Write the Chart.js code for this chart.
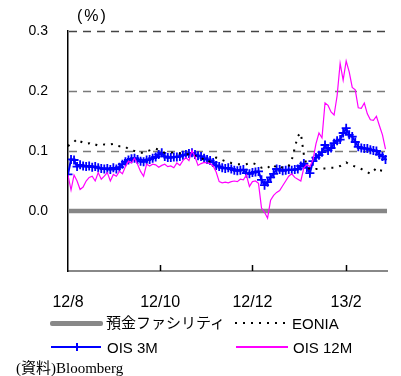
<!DOCTYPE html>
<html>
<head>
<meta charset="utf-8">
<script src="https://cdn.jsdelivr.net/npm/chart.js@4/dist/chart.umd.min.js"></script>
<style>
  html, body { margin: 0; padding: 0; background: #fff; }
  #wrap { position: relative; width: 401px; height: 376px; overflow: hidden; }
  #c { position: absolute; left: 0; top: 0; }
  .txt { position: absolute; white-space: nowrap; color: #000; line-height: 1; }
  .sans { font-family: "Liberation Sans", Arial, "Noto Sans CJK JP", sans-serif; }
  .jp { font-family: "Noto Sans CJK JP", "Liberation Sans", sans-serif; }
  .serif { font-family: "Liberation Serif", "Noto Sans CJK JP", serif; }
  .sw { position: absolute; }
</style>
</head>
<body>
<div id="wrap">
  <canvas id="c" width="401" height="376"></canvas>
  <div class="txt sans" style="left:77px; top:8px; font-size:16px; letter-spacing:2px;">(%)</div>

  <!-- legend -->
  <div class="sw" style="left:50px; top:321px; width:53px; height:5px; background:#888; border-radius:2px;"></div>
  <div class="txt jp" style="left:106px; top:314px; font-size:15px;">預金ファシリティ</div>
  <div class="sw" style="left:235px; top:322px; width:56px; height:2px; background:repeating-linear-gradient(90deg,#000 0 2px,transparent 2px 8px);"></div>
  <div class="txt sans" style="left:292px; top:316px; font-size:15px;">EONIA</div>

  <div class="sw" style="left:51px; top:346px; width:50px; height:1.5px; background:#0000ff;"></div>
  <div class="sw" style="left:76px; top:343px; width:1.5px; height:8px; background:#0000ff;"></div>
  <div class="txt sans" style="left:107px; top:340px; font-size:15px;">OIS 3M</div>
  <div class="sw" style="left:236px; top:346px; width:52px; height:1.5px; background:#ff00ff;"></div>
  <div class="txt sans" style="left:293px; top:340px; font-size:15px;">OIS 12M</div>

  <div class="txt serif" style="left:16px; top:361px; font-size:15px;">(資料)Bloomberg</div>
</div>
<script>
// Observation days, counted from 1 Aug 2012, every second day
const days = Array.from({ length: 106 }, (_, i) => i * 2);

// Month tick positions (days from 1 Aug 2012) and their labels
const monthTicks = [0, 61, 122, 184];
const monthLabels = ['12/8', '12/10', '12/12', '13/2'];

// Dashed reference levels (%)
const gridLevels = [0.1, 0.2, 0.3];

// Deposit facility rate (%)
const depositDays = [0, 211];
const depositRate = [0.0, 0.0];

// EONIA (%)
const eonia = [
  0.108, 0.113, 0.115, 0.120, 0.116, 0.114, 0.112, 0.113, 0.110, 0.111,
  0.109, 0.110, 0.111, 0.110, 0.111, 0.112, 0.109, 0.108, 0.108, 0.107,
  0.103, 0.101, 0.100, 0.098, 0.097, 0.097, 0.100, 0.101, 0.103, 0.104,
  0.102, 0.099, 0.097, 0.097, 0.097, 0.098, 0.097, 0.096, 0.095, 0.094,
  0.095, 0.094, 0.092, 0.091, 0.089, 0.085, 0.081, 0.083, 0.087, 0.089,
  0.088, 0.085, 0.083, 0.082, 0.080, 0.079, 0.078, 0.078, 0.077, 0.078,
  0.080, 0.080, 0.078, 0.075, 0.072, 0.073, 0.075, 0.070, 0.072, 0.077,
  0.074, 0.072, 0.073, 0.075, 0.085, 0.105, 0.125, 0.130, 0.094, 0.075,
  0.069, 0.069, 0.070, 0.070, 0.071, 0.071, 0.071, 0.072, 0.072, 0.073,
  0.075, 0.078, 0.081, 0.078, 0.076, 0.074, 0.072, 0.070, 0.067, 0.065,
  0.062, 0.066, 0.072, 0.068, 0.067, 0.068
];

// OIS 3M (%)
const ois3m = [
  0.061, 0.086, 0.085, 0.074, 0.077, 0.075, 0.074, 0.075, 0.073, 0.074,
  0.072, 0.071, 0.070, 0.071, 0.069, 0.072, 0.070, 0.073, 0.078, 0.082,
  0.085, 0.087, 0.088, 0.086, 0.083, 0.082, 0.085, 0.086, 0.088, 0.090,
  0.094, 0.097, 0.091, 0.089, 0.089, 0.090, 0.090, 0.091, 0.093, 0.094,
  0.096, 0.097, 0.094, 0.092, 0.091, 0.088, 0.086, 0.084, 0.081, 0.076,
  0.074, 0.072, 0.071, 0.072, 0.070, 0.068, 0.067, 0.068, 0.069, 0.063,
  0.062, 0.064, 0.065, 0.066, 0.052, 0.043, 0.048, 0.056, 0.062, 0.070,
  0.069, 0.067, 0.068, 0.069, 0.068, 0.069, 0.070, 0.075, 0.079, 0.072,
  0.063, 0.083, 0.089, 0.093, 0.098, 0.110, 0.101, 0.105, 0.113, 0.117,
  0.119, 0.130, 0.138, 0.127, 0.124, 0.115, 0.107, 0.105, 0.104, 0.104,
  0.102, 0.101, 0.100, 0.094, 0.091, 0.086
];

// OIS 12M (%)
const ois12m = [
  0.060, 0.035, 0.060, 0.050, 0.036, 0.040, 0.050, 0.056, 0.058, 0.050,
  0.064, 0.053, 0.058, 0.064, 0.050, 0.061, 0.058, 0.066, 0.062, 0.074,
  0.083, 0.080, 0.088, 0.078, 0.066, 0.058, 0.078, 0.075, 0.078, 0.077,
  0.073, 0.076, 0.078, 0.074, 0.075, 0.072, 0.080, 0.076, 0.084, 0.089,
  0.084, 0.101, 0.090, 0.076, 0.079, 0.081, 0.080, 0.079, 0.075, 0.065,
  0.049, 0.047, 0.048, 0.047, 0.049, 0.050, 0.049, 0.053, 0.052, 0.060,
  0.041, 0.049, 0.050, 0.046, 0.005, -0.002, -0.012, 0.018, 0.026, 0.031,
  0.034, 0.042, 0.050, 0.058, 0.062, 0.056, 0.053, 0.050, 0.072, 0.077,
  0.074, 0.085, 0.112, 0.130, 0.122, 0.180, 0.176, 0.165, 0.160, 0.192,
  0.246, 0.218, 0.250, 0.232, 0.206, 0.202, 0.172, 0.171, 0.180, 0.162,
  0.152, 0.151, 0.158, 0.142, 0.127, 0.103
];

const pts = (xs, ys) => xs.map((x, i) => ({ x, y: ys[i] }));

// Dashed horizontal reference lines, drawn beneath the series
const dashedGrid = {
  id: 'dashedGrid',
  beforeDatasetsDraw(chart) {
    const { ctx, scales: { y }, chartArea } = chart;
    ctx.save();
    ctx.setLineDash([8, 6]);
    ctx.lineWidth = 1.3;
    gridLevels.forEach(v => {
      const py = Math.round(y.getPixelForValue(v)) + 0.5;
      ctx.strokeStyle = v > 0.25 ? '#444' : '#7a7a7a';
      ctx.beginPath();
      ctx.moveTo(chartArea.left + 1, py);
      ctx.lineTo(chartArea.right, py);
      ctx.stroke();
    });
    ctx.restore();
  }
};

// Short upward tick marks on the bottom axis at each month position
const innerTicks = {
  id: 'innerTicks',
  afterDatasetsDraw(chart) {
    const { ctx, scales: { x }, chartArea } = chart;
    ctx.save();
    ctx.strokeStyle = '#000';
    ctx.lineWidth = 1.5;
    monthTicks.slice(1).forEach(v => {
      const px = Math.round(x.getPixelForValue(v)) + 0.5;
      ctx.beginPath();
      ctx.moveTo(px, chartArea.bottom);
      ctx.lineTo(px, chartArea.bottom - 6);
      ctx.stroke();
    });
    ctx.restore();
  }
};

new Chart(document.getElementById('c'), {
  type: 'line',
  data: {
    datasets: [
      {
        label: 'OIS 12M',
        data: pts(days, ois12m),
        borderColor: '#ff00ff',
        borderWidth: 1.2,
        pointRadius: 0,
        tension: 0,
        order: 0
      },
      {
        label: 'EONIA',
        data: pts(days, eonia),
        borderColor: '#000',
        borderWidth: 2,
        borderDash: [2, 6],
        pointRadius: 0,
        tension: 0,
        order: 1
      },
      {
        label: 'OIS 3M',
        data: pts(days, ois3m),
        borderColor: '#0000ff',
        borderWidth: 2,
        pointStyle: 'cross',
        pointRadius: 4.5,
        pointBorderWidth: 1.8,
        pointBorderColor: '#0000ff',
        pointBackgroundColor: '#0000ff',
        tension: 0,
        order: 2
      },
      {
        label: '預金ファシリティ',
        data: pts(depositDays, depositRate),
        borderColor: '#868686',
        borderWidth: 4.5,
        pointRadius: 0,
        order: 3
      }
    ]
  },
  options: {
    responsive: false,
    animation: false,
    layout: { padding: { left: 0, right: 14, top: 31, bottom: 0 } },
    plugins: { legend: { display: false }, tooltip: { enabled: false } },
    scales: {
      x: {
        type: 'linear',
        min: 0,
        max: 211,
        afterFit(scale) { scale.height = 105; },
        afterBuildTicks(scale) { scale.ticks = monthTicks.map(v => ({ value: v })); },
        grid: { display: false, drawTicks: false },
        border: { display: true, color: '#888', width: 2 },
        ticks: {
          autoSkip: false,
          maxRotation: 0,
          padding: 22,
          color: '#000',
          font: { family: '"Liberation Sans", Arial, sans-serif', size: 16 },
          callback(value) {
            const k = monthTicks.indexOf(value);
            return k >= 0 ? monthLabels[k] : '';
          }
        }
      },
      y: {
        min: -0.1,
        max: 0.3,
        afterFit(scale) { scale.width = 68; },
        grid: { display: false, drawTicks: false },
        border: { display: true, color: '#000', width: 1.5 },
        ticks: {
          stepSize: 0.1,
          padding: 20,
          color: '#000',
          font: { family: '"Liberation Sans", Arial, sans-serif', size: 14 },
          callback(value) {
            return value < -0.05 ? '' : value.toFixed(1);
          }
        }
      }
    }
  },
  plugins: [dashedGrid, innerTicks]
});
</script>
</body>
</html>
